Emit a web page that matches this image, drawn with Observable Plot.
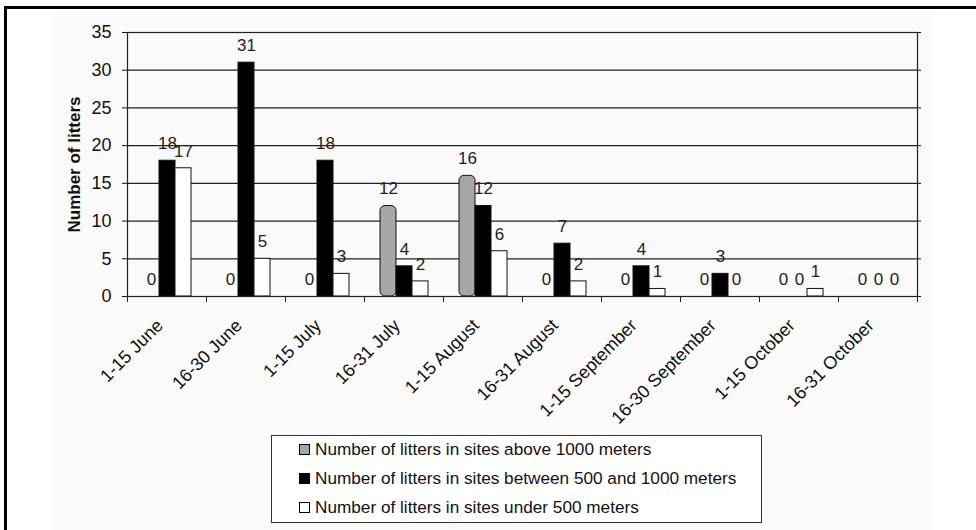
<!DOCTYPE html>
<html>
<head>
<meta charset="utf-8">
<script src="https://cdn.jsdelivr.net/npm/d3@7"></script>
<script src="https://cdn.jsdelivr.net/npm/@observablehq/plot@0.6"></script>
<style>
  html, body { margin: 0; padding: 0; background: #ffffff; overflow: hidden; }
  body { width: 976px; height: 530px; position: relative; font-family: "Liberation Sans", Arial, sans-serif; }
  #border { position: absolute; left: 4px; top: 6px; width: 1000px; height: 600px; border-left: 3px solid #000; border-top: 3px solid #000; }
  #area { position: absolute; left: 53px; top: 15px; width: 880px; height: 515px; background: #fafafa; }
  #chart { position: absolute; left: 0; top: 0; }
  #legend { position: absolute; left: 271px; top: 435px; width: 489px; height: 86px; border: 1px solid #333; background: #fff; box-sizing: content-box; }
  .row { position: absolute; left: 27px; display: flex; align-items: center; font-size: 17.2px; color: #111; white-space: nowrap; }
  .sw { width: 9px; height: 9px; border: 1px solid #000; margin-right: 5px; }
  g[aria-label="y-axis label"] text { font-weight: bold; font-size: 17px; }
</style>
</head>
<body>
<div id="area"></div>
<div id="border"></div>
<div id="chart"></div>
<div id="legend"></div>
<script>
const periods = ["1-15 June", "16-30 June", "1-15 July", "16-31 July", "1-15 August",
  "16-31 August", "1-15 September", "16-30 September", "1-15 October", "16-31 October"];
const seriesNames = [
  "Number of litters in sites above 1000 meters",
  "Number of litters in sites between 500 and 1000 meters",
  "Number of litters in sites under 500 meters"
];
const above1000 = [0, 0, 0, 12, 16, 0, 0, 0, 0, 0];
const between500and1000 = [18, 31, 18, 4, 12, 7, 4, 3, 0, 0];
const under500 = [17, 5, 3, 2, 6, 2, 1, 0, 1, 0];
const seriesColors = ["#a6a6a6", "#000000", "#ffffff"];
const yTicks = [0, 5, 10, 15, 20, 25, 30, 35];

const seriesValues = [above1000, between500and1000, under500];
const rows = periods.flatMap((p, i) =>
  seriesNames.map((s, k) => ({period: p, series: s, value: seriesValues[k][i]})));

const W = 976, H = 430, mL = 123, mR = 55, mT = 32, mB = 134;
const innerH = H - mT - mB;

const chart = Plot.plot({
  width: W, height: H,
  marginLeft: mL, marginRight: mR, marginTop: mT, marginBottom: mB,
  style: {fontFamily: '"Liberation Sans", Arial, sans-serif', fontSize: "17px", color: "#111", background: "transparent", overflow: "visible"},
  fx: {domain: periods, padding: 0, label: null},
  x: {domain: seriesNames, paddingInner: 0, paddingOuter: 0.85, axis: null},
  y: {domain: [0, 35]},
  color: {domain: seriesNames, range: seriesColors},
  marks: [
    Plot.gridY(yTicks, {stroke: "#222", strokeOpacity: 1, strokeWidth: 1.2}),
    Plot.frame({anchor: "left", insetTop: innerH, insetBottom: -5, stroke: "#222"}),
    Plot.frame({anchor: "right", insetTop: innerH, insetBottom: -5, stroke: "#222"}),
    Plot.barY(rows.filter(d => d.series === seriesNames[0]), {fx: "period", x: "series", y: "value", fill: "series", stroke: "#111", strokeWidth: 1, rx: 5}),
    Plot.barY(rows.filter(d => d.series !== seriesNames[0]), {fx: "period", x: "series", y: "value", fill: "series", stroke: "#111", strokeWidth: 1}),
    Plot.frame({facet: "super", stroke: "#222", strokeWidth: 1.2}),
    Plot.text(rows, {fx: "period", x: "series", y: "value", text: d => String(d.value), dy: -17, fontSize: 17, fill: "#222"}),
    Plot.axisY(yTicks, {tickSize: 5, tickPadding: 11, fontSize: 18, label: "Number of litters", labelAnchor: "center", labelOffset: 60, labelArrow: false}),
    Plot.axisY(yTicks, {anchor: "right", tickSize: 3, tickFormat: () => "", label: null}),
    Plot.axisFx({anchor: "bottom", tickSize: 0, tickPadding: 26, tickRotate: -45, dx: -7, fontSize: 18, label: null})
  ]
});
document.getElementById("chart").appendChild(chart);

const legend = document.getElementById("legend");
seriesNames.forEach((name, k) => {
  const row = document.createElement("div");
  row.className = "row";
  row.style.top = (3 + k * 29) + "px";
  row.style.height = "20px";
  const sw = document.createElement("div");
  sw.className = "sw";
  sw.style.background = seriesColors[k];
  const t = document.createElement("span");
  t.textContent = name;
  row.appendChild(sw);
  row.appendChild(t);
  legend.appendChild(row);
});
</script>
</body>
</html>
